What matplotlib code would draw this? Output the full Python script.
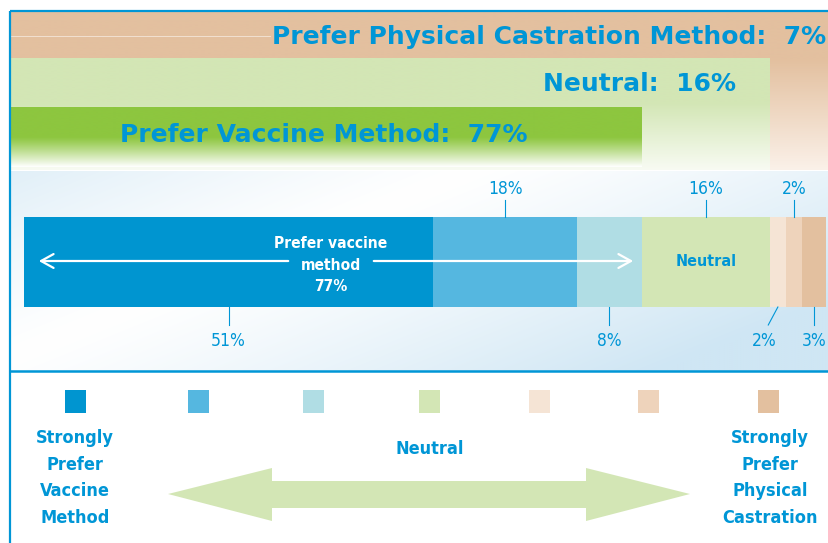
import numpy as np
import matplotlib
matplotlib.use("Agg")
import matplotlib.pyplot as plt
from matplotlib.colors import to_rgb
from matplotlib.patches import Polygon, Rectangle

# ---------------- data ----------------
categories = ['Strongly prefer vaccine', 'Prefer vaccine', 'Slightly prefer vaccine',
              'Neutral', 'Slightly prefer physical', 'Prefer physical',
              'Strongly prefer physical']
values = [51, 18, 8, 16, 2, 2, 3]
value_labels = ['51%', '18%', '8%', '16%', '2%', '2%', '3%']
label_side = ['below', 'above', 'below', 'above', 'below', 'above', 'below']
colors = ['#0095d0', '#55b7e0', '#b0dde4', '#d3e6b5', '#f5e4d5', '#eed3bb', '#e3c09f']

summary_labels = ['Prefer Vaccine Method', 'Neutral', 'Prefer Physical Castration Method']
summary_values = [77, 16, 7]
summary_text = ['Prefer Vaccine Method:  77%', 'Neutral:  16%',
                'Prefer Physical Castration Method:  7%']

legend_left = 'Strongly\nPrefer\nVaccine\nMethod'
legend_mid = 'Neutral'
legend_right = 'Strongly\nPrefer\nPhysical\nCastration'

BLUE = '#0096d6'
NARROW = dict(family='DejaVu Sans', stretch='condensed')
WIDE = dict(family='DejaVu Sans')

# ---------------- layout ----------------
W, H = 829, 543
X0, SCALE = 24.0, 8.02          # pixel of 0 % and pixels per percent


def px(p):
    """pixel column -> data x (percent)"""
    return (p - X0) / SCALE


fig = plt.figure(figsize=(W / 100, H / 100), dpi=100)
ax = fig.add_axes([0, 0, 1, 1])
ax.set_xlim(px(0), px(W))
ax.set_ylim(H, 0)
ax.axis('off')


def vgrad(c1, c2, start=0.0, power=1.0, n=256):
    t = np.linspace(0, 1, n)
    w = np.clip((t - start) / (1 - start), 0, 1) ** power
    a, b = np.array(to_rgb(c1)), np.array(to_rgb(c2))
    return (a[None, :] * (1 - w[:, None]) + b[None, :] * w[:, None])[:, None, :]


# ---------- top summary bars (cumulative) ----------
cum = np.cumsum(summary_values)            # 77, 93, 100
band_tops = [107, 58, 12]
band_bots = [167, 170, 170]
grads = [('#8dc63f', '#ffffff', 0.5, 1.1),
         ('#d3e6b5', '#f8fbf3', 0.4, 1.0),
         ('#e3c09f', '#fbf1e9', 0.30, 1.0)]
left = px(10)
for i in [2, 1, 0]:
    top, bot = band_tops[i], band_bots[i]
    right = cum[i] if i < 2 else px(W)
    bar = ax.barh((top + bot) / 2, right - left, height=bot - top, left=left,
                  color=grads[i][0], edgecolor='none')
    bar.patches[0].set_zorder(1 + (2 - i) * 0.1)
    img = ax.imshow(vgrad(*grads[i]), extent=(left, right, bot, top),
                    aspect='auto', zorder=1.05 + (2 - i) * 0.1, interpolation='bilinear')
    img.set_clip_path(bar.patches[0])

ax.plot([px(10), px(270)], [36, 36], color='white', lw=0.6, alpha=0.6, zorder=1.06)

# top texts
ax.text(px(826), 37, summary_text[2], ha='right', va='center', color=BLUE,
        fontsize=18, fontweight='bold', zorder=5, **WIDE)
ax.text(px(736), 84, summary_text[1], ha='right', va='center', color=BLUE,
        fontsize=18, fontweight='bold', zorder=5, **WIDE)
ax.text(px(120), 135, summary_text[0], ha='left', va='center', color=BLUE,
        fontsize=18, fontweight='bold', zorder=5, **WIDE)

# ---------- middle background ----------
ny, nx = 100, 300
yy, xx = np.mgrid[0:1:ny * 1j, 0:1:nx * 1j]
d = xx * 0.75 + yy * 0.45
w = np.clip(np.abs(d - 0.42) * 1.6, 0, 1) ** 1.2
blue_bg = np.array(to_rgb('#cfe6f4'))
bg = (1 - w[..., None]) * 1.0 + w[..., None] * blue_bg[None, None, :]
ax.imshow(bg, extent=(px(10), px(W), 371, 171), aspect='auto', zorder=0.5,
          interpolation='bilinear')

# ---------- stacked bar ----------
BAR_Y, BAR_H = 262, 90
lefts = np.concatenate([[0], np.cumsum(values)[:-1]])
ax.barh(BAR_Y, values, left=lefts, height=BAR_H, color=colors, edgecolor='none',
        zorder=2)
bar_top, bar_bot = BAR_Y - BAR_H / 2, BAR_Y + BAR_H / 2
for i, (l, v) in enumerate(zip(lefts, values)):
    c = l + v / 2
    if label_side[i] == 'above':
        ax.plot([c, c], [200, bar_top], color=BLUE, lw=0.8, zorder=3)
        ax.text(c, 189, value_labels[i], ha='center', va='center', color=BLUE,
                fontsize=12.5, zorder=3, **NARROW)
    else:
        if v <= 2:
            tx = c - 1.7
            ax.plot([c, tx + 0.5], [bar_bot, 325], color=BLUE, lw=0.8, zorder=3)
        else:
            tx = c
            ax.plot([c, c], [bar_bot, 325], color=BLUE, lw=0.8, zorder=3)
        ax.text(tx, 341, value_labels[i], ha='center', va='center', color=BLUE,
                fontsize=12.5, zorder=3, **NARROW)

# arrow + text inside the bar
arrow_kw = dict(arrowstyle='->,head_length=0.9,head_width=0.5', color='white', lw=1.6)
ax.annotate('', xy=(px(36), 261), xytext=(px(291), 261), arrowprops=arrow_kw, zorder=4)
ax.annotate('', xy=(px(636), 261), xytext=(px(371), 261), arrowprops=arrow_kw, zorder=4)
vac_total = sum(values[:3])
ax.text(px(331), 265, 'Prefer vaccine\nmethod\n%d%%' % vac_total, ha='center',
        va='center', color='white', fontsize=11.2, fontweight='bold',
        linespacing=1.55, zorder=4, **NARROW)
ax.text(lefts[3] + values[3] / 2, 261, 'Neutral', ha='center', va='center',
        color=BLUE, fontsize=11.5, fontweight='bold', zorder=4, **NARROW)

# ---------- frame lines ----------
ax.plot([px(10), px(W)], [11, 11], color=BLUE, lw=1.6, zorder=6, solid_capstyle='butt')
ax.plot([px(10), px(10)], [11, H], color=BLUE, lw=1.6, zorder=6, solid_capstyle='butt')
ax.plot([px(10), px(W)], [371, 371], color=BLUE, lw=1.8, zorder=6, solid_capstyle='butt')

# ---------- legend ----------
sq_centers = [76, 199, 314, 430, 540, 649, 769]
for cx, col in zip(sq_centers, colors):
    ax.add_patch(Rectangle((px(cx - 10.5), 390), 21 / SCALE, 23, facecolor=col,
                           edgecolor='none', zorder=3))

ax.text(px(75), 478, legend_left, ha='center', va='center', color=BLUE,
        fontsize=13, fontweight='bold', linespacing=1.6, zorder=4, **NARROW)
ax.text(px(770), 478, legend_right, ha='center', va='center', color=BLUE,
        fontsize=13, fontweight='bold', linespacing=1.6, zorder=4, **NARROW)
ax.text(px(430), 449, legend_mid, ha='center', va='center', color=BLUE,
        fontsize=13, fontweight='bold', zorder=4, **NARROW)

pts_px = [(168, 494), (272, 468), (272, 481), (586, 481), (586, 468), (690, 494),
          (586, 521), (586, 508), (272, 508), (272, 521)]
ax.add_patch(Polygon([(px(a), b) for a, b in pts_px], closed=True,
                     facecolor='#d3e6b5', edgecolor='none', zorder=2))

fig.savefig('out.png', dpi=100)
